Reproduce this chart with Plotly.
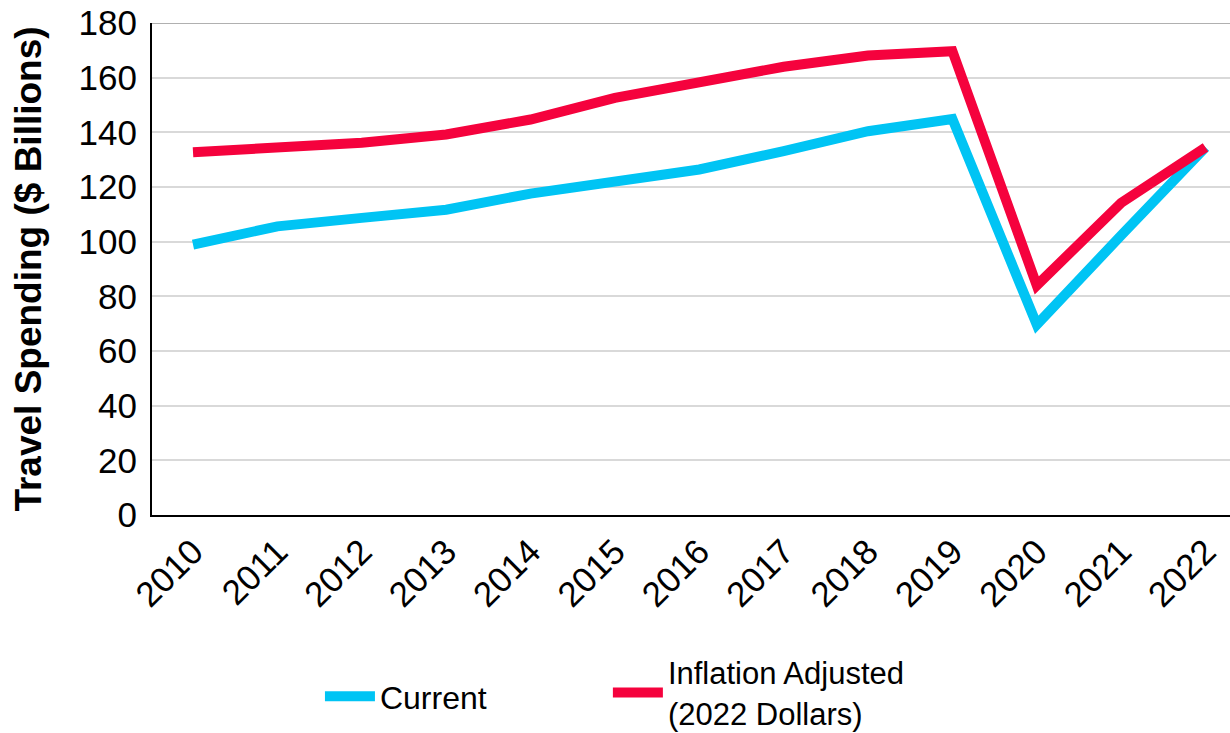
import plotly.graph_objects as go

years = ["2010", "2011", "2012", "2013", "2014", "2015", "2016", "2017", "2018", "2019", "2020", "2021", "2022"]
current = [98.9, 105.6, 108.7, 111.7, 117.6, 122.1, 126.4, 133.1, 140.4, 144.9, 69.6, 102.3, 134.5]
inflation_adjusted = [132.7, 134.7, 136.2, 139.2, 144.7, 152.6, 158.7, 164.0, 168.1, 169.7, 84.0, 114.2, 134.5]
y_ticks = [0, 20, 40, 60, 80, 100, 120, 140, 160, 180]

CYAN = "#00C4F4"
RED = "#F5023D"
FONT = "Liberation Sans, Arial, sans-serif"

fig = go.Figure()
fig.add_trace(go.Scatter(x=years, y=current, mode="lines", name="Current",
                         line=dict(color=CYAN, width=10), legend="legend"))
fig.add_trace(go.Scatter(x=years, y=inflation_adjusted, mode="lines",
                         name="Inflation Adjusted<br>(2022 Dollars)",
                         line=dict(color=RED, width=10), legend="legend2"))

fig.add_shape(type="line", xref="paper", yref="y", x0=0, x1=1,
              y0=y_ticks[-1], y1=y_ticks[-1], line=dict(color="#b0b0b0", width=2), layer="below")

fig.update_layout(
    width=1230, height=733,
    margin=dict(l=152, r=0, t=23, b=218, autoexpand=False),
    paper_bgcolor="white", plot_bgcolor="white",
    font=dict(family=FONT, color="black"),
    showlegend=True,
    legend=dict(orientation="h", x=0.1558, xanchor="left", y=-0.369, yanchor="middle",
                font=dict(size=32, family=FONT), bgcolor="rgba(0,0,0,0)", itemwidth=50),
    legend2=dict(orientation="h", x=0.4229, xanchor="left", y=-0.361, yanchor="middle",
                 font=dict(size=31, family=FONT), valign="middle", bgcolor="rgba(0,0,0,0)",
                 itemwidth=50),
    xaxis=dict(type="category", range=[-0.486, 12.29], showgrid=False,
               showline=True, linecolor="black", linewidth=2, automargin=False,
               tickangle=-45, tickfont=dict(size=35, family=FONT),
               ticks="", fixedrange=True),
    yaxis=dict(range=[0, 180], tickvals=y_ticks, showgrid=True, gridcolor="#d9d9d9",
               gridwidth=1.5, showline=True, linecolor="black", linewidth=2,
               zeroline=False, tickfont=dict(size=35, family=FONT), automargin=False,
               ticklabelstandoff=6,
               title=dict(text="<b>Travel Spending ($ Billions)</b>",
                          font=dict(size=37, family=FONT), standoff=26)),
)

fig.write_html("out.html", config={"displayModeBar": False},
               post_script="document.body.style.margin='0';document.body.style.overflow='hidden';")
